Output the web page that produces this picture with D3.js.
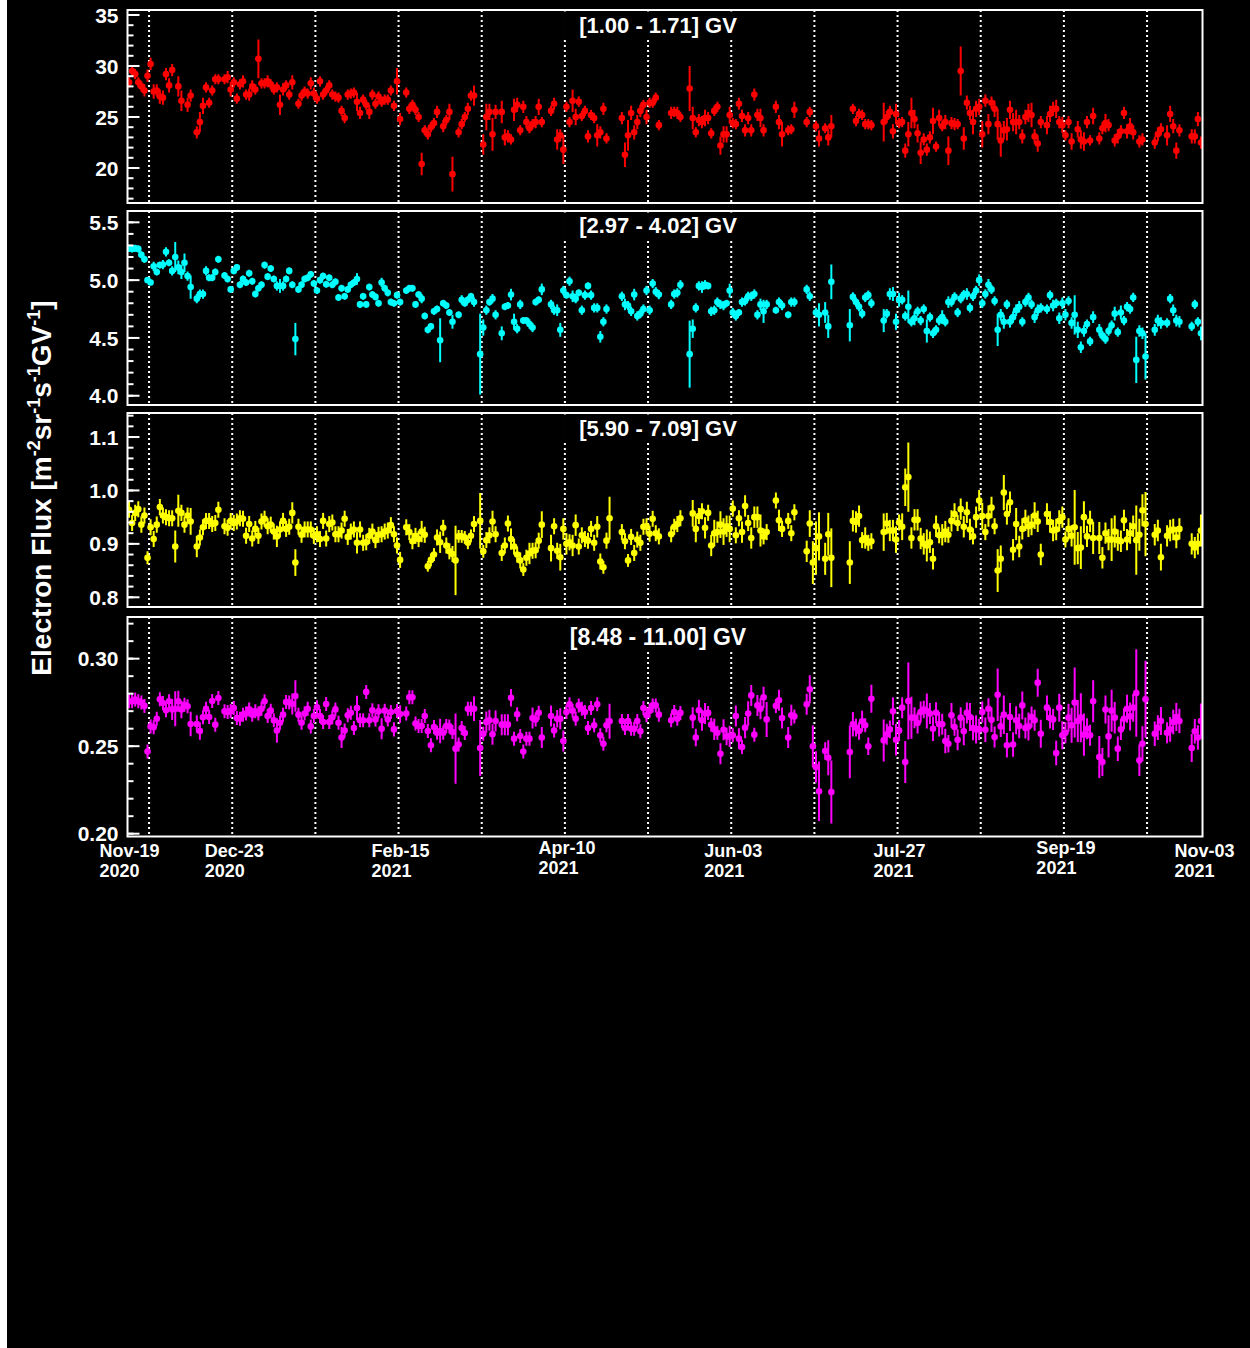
<!DOCTYPE html>
<html><head><meta charset="utf-8">
<script src="https://cdn.jsdelivr.net/npm/d3@7"></script>
<style>
body{margin:0;background:#fff}
svg{display:block}
text{font-family:"Liberation Sans",Arial,Helvetica,sans-serif;font-weight:bold;fill:#fff}
</style>
</head><body><svg id="c" width="1250" height="1348"></svg>
<script>
// ---- data: [day index from 2020-11-19, flux, error] ----
const p1 = [[0,28.4,.5],[1,29.5,.5],[2,29.2,.5],[3,28.4,.5],[4,28.0,.5],[5,27.6,.6],[6,29.05,.6],[7,30.2,.6],[8,27.5,.7],[9,27.6,.6],[10,27.0,.7],[11,26.9,.7],[12,29.2,.6],[13,28.1,.7],[14,29.6,.6],[16,28.0,1.0],[17,26.6,1.0],[19,26.2,.7],[20,27.1,.6],[22,23.5,.6],[23,24.5,1.0],[24,26.1,.8],[25,27.9,.5],[26,26.4,.5],[27,27.6,.5],[28,28.7,.5],[29,28.7,.5],[31,28.7,.5],[32,28.9,.6],[33,27.7,.7],[34,28.4,.5],[35,26.8,.5],[36,28.2,.5],[37,28.5,.6],[38,27.2,.5],[39,27.2,.6],[40,28.0,.6],[41,27.7,.5],[42,30.7,1.9],[43,28.3,.5],[44,28.3,.5],[45,28.5,.6],[46,28.2,.5],[47,27.7,.5],[48,27.9,.5],[49,26.2,1.0],[50,27.7,.6],[51,28.1,.5],[52,27.2,.5],[53,28.4,.7],[55,26.3,.5],[56,27.1,.5],[57,27.5,.5],[58,27.3,.5],[59,28.3,.6],[60,27.3,.6],[61,26.8,.5],[62,28.5,.5],[63,27.2,.5],[64,27.6,.5],[65,28.1,.5],[66,27.2,.5],[67,27.0,.5],[68,26.9,.5],[69,25.6,.5],[70,24.9,.5],[71,27.2,.5],[72,27.3,.5],[73,27.4,.5],[74,26.5,.9],[75,25.4,.6],[76,26.7,.5],[77,26.2,.5],[78,25.5,.7],[79,27.2,.5],[80,26.3,.5],[81,27.0,.5],[82,26.5,.5],[83,26.7,.5],[84,26.7,.5],[85,27.6,.5],[86,26.1,.5],[87,28.5,1.3],[88,24.8,.6],[90,27.4,.5],[91,25.8,.5],[92,26.2,.5],[93,25.7,.5],[94,25.0,.5],[95,20.4,1.1],[96,23.7,.5],[97,23.3,.5],[98,24.0,.5],[99,24.4,.5],[100,25.5,.6],[102,24.1,.6],[103,24.7,.5],[104,25.5,.8],[105,19.4,1.7],[107,23.5,.5],[108,24.3,.5],[109,25.0,.5],[110,25.8,.6],[111,27.1,.5],[112,27.1,1.0],[115,22.3,1.0],[116,25.0,1.3],[117,25.5,.8],[118,23.3,1.6],[119,25.5,.7],[121,25.5,1.1],[122,23.0,.8],[123,23.1,.6],[124,22.8,.5],[125,25.7,1.1],[126,26.2,.7],[127,23.7,.5],[128,26.0,.6],[129,24.5,.6],[130,23.9,.5],[131,24.3,.5],[132,24.5,.6],[133,26.0,.8],[134,24.5,.5],[137,25.6,.5],[138,26.3,.6],[139,22.8,1.0],[140,23.2,.6],[141,21.8,1.4],[142,26.0,.5],[143,24.5,.5],[144,26.6,1.1],[145,25.0,.8],[146,26.5,.5],[147,25.1,.5],[148,25.6,.5],[149,23.1,.6],[150,25.2,.5],[151,24.9,.5],[152,23.2,1.1],[153,23.5,.6],[154,25.8,.6],[155,22.9,.5],[160,24.9,.6],[161,21.3,1.2],[162,23.2,1.5],[163,25.4,.7],[164,23.5,.7],[165,24.5,.7],[166,25.6,.6],[167,26.2,.5],[168,25.0,.7],[169,26.4,.5],[170,26.4,.5],[171,26.9,.5],[172,24.2,.5],[176,25.4,.6],[177,25.5,.5],[178,25.4,.6],[179,25.0,.5],[182,27.8,2.2],[183,24.9,1.1],[184,23.5,.5],[185,24.7,.6],[186,24.5,.6],[187,24.9,.8],[188,24.9,.6],[189,23.4,.5],[190,25.6,.5],[191,26.0,.5],[192,22.2,.9],[193,23.3,.8],[194,23.3,.8],[195,25.2,.8],[196,24.4,.5],[197,24.3,.5],[198,26.3,.6],[199,25.1,.6],[200,23.7,.6],[201,24.9,.6],[202,23.7,.6],[203,27.2,.6],[204,25.2,.6],[205,24.9,.9],[206,23.7,.6],[210,26.0,.6],[211,24.5,.7],[212,23.3,1.2],[214,23.7,.5],[215,23.8,.5],[216,25.7,.8],[220,24.5,.5],[221,25.5,.5],[223,24.1,.5],[224,22.9,.8],[226,23.9,.5],[227,23.0,.8],[228,24.1,1.1],[235,25.8,.5],[236,24.6,.5],[237,25.3,.5],[238,25.2,.5],[239,24.3,.5],[240,24.3,.5],[241,24.2,.5],[245,24.5,1.9],[246,25.0,.6],[247,25.5,.6],[248,23.6,.7],[249,25.3,1.0],[250,24.4,.5],[251,24.5,.5],[252,21.7,.7],[253,23.3,1.2],[254,25.4,1.5],[255,24.8,.9],[256,23.4,.9],[257,21.5,1.1],[258,22.8,.6],[259,21.8,.6],[260,23.0,.6],[261,24.6,1.3],[262,22.1,.5],[263,24.9,.8],[264,24.1,.5],[265,24.5,.7],[266,21.7,1.4],[267,24.4,.6],[268,24.3,.6],[269,24.3,.5],[270,29.5,2.4],[271,22.9,1.1],[272,26.4,.7],[273,25.4,.7],[274,24.5,1.2],[275,25.8,.8],[276,26.0,.8],[277,23.3,1.3],[278,26.6,.6],[279,24.3,1.0],[280,26.4,.6],[281,25.8,.8],[282,24.3,1.5],[283,22.7,1.6],[284,23.7,.9],[285,23.8,1.1],[286,25.7,.9],[287,24.5,.9],[288,24.5,1.2],[289,24.5,.7],[290,23.1,.7],[291,25.0,.7],[292,25.4,.9],[293,25.2,1.2],[294,23.1,.7],[295,22.4,.8],[296,24.5,.6],[298,24.2,.9],[299,25.3,.8],[300,25.8,.7],[301,25.8,.9],[302,24.5,.6],[303,24.2,.8],[304,23.2,.5],[305,24.5,.6],[306,22.6,.8],[308,23.8,.8],[309,22.8,.9],[310,22.6,.9],[311,24.5,.6],[312,22.7,.5],[313,25.1,.8],[315,22.9,.6],[316,23.9,.6],[317,24.4,.9],[318,24.2,.6],[320,22.7,.6],[321,23.1,.7],[322,23.6,.6],[323,25.4,.6],[324,23.6,.7],[325,24.1,.8],[326,23.5,.7],[328,22.6,.6],[329,22.8,.6],[333,22.5,.6],[334,23.3,.7],[335,23.8,.6],[337,23.2,1.0],[338,25.3,.8],[339,24.1,.7],[340,21.7,.8],[341,23.7,.6],[345,23.1,.7],[346,23.1,.7],[347,24.8,.7],[348,22.5,.6]];

const p2 = [[0,5.275,.03],[1,5.27,.03],[2,5.275,.03],[3,5.27,.03],[4,5.22,.03],[5,5.18,.03],[6,5.0,.025],[7,4.98,.025],[8,5.12,.04],[9,5.07,.03],[10,5.13,.03],[11,5.135,.04],[12,5.245,.04],[13,5.15,.03],[14,5.08,.04],[15,5.2,.13],[16,5.11,.06],[17,5.07,.06],[18,5.15,.08],[19,5.035,.04],[20,4.94,.1],[22,4.84,.04],[23,4.88,.04],[24,4.88,.04],[25,5.08,.04],[26,5.02,.03],[27,5.02,.03],[28,5.07,.03],[29,5.18,.03],[31,5.04,.03],[32,5.01,.03],[33,4.92,.03],[34,5.08,.03],[35,5.11,.03],[36,4.96,.03],[37,5.01,.03],[38,4.98,.03],[39,5.06,.03],[40,4.99,.03],[41,4.88,.03],[42,4.93,.03],[43,4.96,.03],[44,5.13,.03],[45,5.03,.03],[46,5.10,.03],[47,5.01,.03],[48,4.95,.04],[49,4.95,.06],[50,4.95,.04],[51,5.01,.03],[52,5.08,.03],[53,4.96,.03],[54,4.49,.14],[55,4.92,.03],[56,4.96,.03],[57,5.01,.03],[58,5.02,.03],[59,5.05,.03],[60,4.97,.03],[61,4.91,.03],[62,5.0,.03],[63,5.035,.03],[64,4.965,.03],[65,5.02,.03],[66,4.96,.03],[67,4.985,.03],[68,4.85,.03],[69,4.93,.03],[70,4.86,.03],[71,4.92,.03],[72,4.96,.03],[73,4.98,.03],[74,5.01,.05],[75,4.79,.03],[76,4.86,.03],[77,4.79,.03],[78,4.94,.03],[79,4.875,.03],[80,4.855,.03],[81,4.80,.03],[82,4.98,.04],[83,4.93,.03],[84,4.89,.03],[85,4.81,.03],[86,4.80,.03],[87,4.87,.03],[88,4.81,.03],[90,4.91,.03],[91,4.93,.03],[92,4.93,.03],[93,4.79,.03],[94,4.875,.03],[95,4.84,.04],[96,4.69,.03],[97,4.57,.03],[98,4.60,.03],[99,4.73,.03],[100,4.75,.03],[101,4.48,.19],[102,4.80,.03],[103,4.78,.03],[104,4.72,.03],[105,4.64,.06],[107,4.70,.03],[108,4.83,.04],[109,4.80,.03],[110,4.83,.03],[111,4.86,.03],[112,4.81,.04],[114,4.36,.35],[115,4.59,.07],[116,4.74,.04],[117,4.81,.03],[118,4.84,.04],[119,4.70,.04],[121,4.54,.06],[122,4.77,.03],[123,4.78,.03],[124,4.875,.05],[125,4.64,.07],[126,4.58,.04],[127,4.79,.04],[128,4.65,.03],[129,4.65,.03],[130,4.62,.04],[131,4.59,.04],[132,4.81,.03],[133,4.83,.03],[134,4.92,.05],[137,4.79,.04],[138,4.74,.04],[139,4.74,.05],[140,4.57,.06],[141,4.91,.04],[142,4.87,.03],[143,4.99,.04],[144,4.86,.05],[145,4.84,.04],[146,4.89,.03],[147,4.74,.04],[148,4.87,.04],[149,4.95,.03],[150,4.87,.04],[151,4.76,.04],[152,4.76,.04],[153,4.51,.05],[154,4.64,.04],[155,4.75,.04],[160,4.86,.04],[161,4.79,.05],[162,4.78,.04],[163,4.73,.04],[164,4.875,.05],[165,4.69,.04],[166,4.71,.04],[167,4.75,.04],[168,4.91,.04],[169,4.74,.04],[170,4.97,.04],[171,4.90,.04],[172,4.875,.04],[176,4.79,.04],[177,4.88,.04],[178,4.89,.04],[179,4.96,.04],[182,4.36,.29],[183,4.58,.08],[184,4.76,.04],[185,4.95,.04],[186,4.94,.05],[187,4.96,.04],[188,4.95,.03],[189,4.73,.04],[190,4.74,.04],[191,4.81,.04],[192,4.79,.04],[193,4.78,.04],[194,4.80,.03],[195,4.91,.06],[196,4.72,.04],[197,4.69,.04],[198,4.72,.03],[199,4.81,.04],[200,4.82,.04],[201,4.86,.04],[202,4.86,.04],[203,4.88,.04],[204,4.70,.04],[205,4.79,.05],[206,4.73,.1],[207,4.79,.04],[210,4.74,.03],[211,4.81,.04],[212,4.78,.04],[214,4.70,.03],[215,4.81,.04],[216,4.81,.04],[220,4.92,.04],[221,4.86,.04],[223,4.72,.04],[224,4.70,.1],[226,4.72,.09],[227,4.60,.1],[228,4.985,.15],[234,4.61,.14],[235,4.855,.04],[236,4.81,.04],[237,4.77,.04],[238,4.71,.04],[239,4.85,.04],[240,4.87,.04],[241,4.80,.04],[245,4.65,.1],[246,4.71,.04],[247,4.88,.05],[248,4.88,.06],[249,4.64,.07],[250,4.83,.06],[251,4.83,.04],[252,4.69,.04],[253,4.77,.14],[254,4.64,.04],[255,4.67,.06],[256,4.73,.04],[257,4.65,.04],[258,4.75,.04],[259,4.56,.1],[260,4.68,.04],[261,4.54,.04],[262,4.57,.04],[263,4.65,.04],[264,4.68,.06],[265,4.64,.04],[266,4.81,.05],[267,4.81,.04],[268,4.855,.04],[269,4.72,.04],[270,4.84,.04],[271,4.875,.04],[272,4.88,.05],[273,4.76,.04],[274,4.86,.04],[275,4.91,.04],[276,5.00,.05],[277,4.80,.04],[278,4.88,.04],[279,4.96,.05],[280,4.92,.04],[281,4.82,.04],[282,4.57,.14],[283,4.70,.05],[284,4.64,.06],[285,4.79,.04],[286,4.64,.05],[287,4.68,.05],[288,4.74,.05],[289,4.77,.05],[290,4.64,.04],[291,4.81,.04],[292,4.85,.04],[293,4.79,.04],[294,4.68,.05],[295,4.74,.05],[296,4.76,.04],[298,4.75,.04],[299,4.87,.04],[300,4.78,.05],[301,4.80,.04],[302,4.67,.05],[303,4.80,.05],[304,4.70,.05],[305,4.82,.04],[306,4.63,.05],[307,4.70,.17],[308,4.57,.07],[309,4.42,.05],[310,4.56,.05],[311,4.62,.04],[312,4.47,.04],[313,4.68,.05],[315,4.57,.05],[316,4.52,.04],[317,4.49,.04],[318,4.56,.04],[319,4.61,.04],[320,4.71,.06],[321,4.55,.04],[322,4.72,.06],[323,4.65,.04],[324,4.77,.04],[325,4.75,.04],[326,4.85,.04],[327,4.31,.2],[328,4.56,.05],[329,4.54,.05],[330,4.34,.2],[333,4.57,.05],[334,4.65,.05],[335,4.63,.05],[337,4.63,.04],[338,4.84,.04],[339,4.74,.05],[340,4.65,.05],[341,4.64,.05],[345,4.60,.04],[346,4.79,.04],[347,4.64,.04],[348,4.54,.06]];

const p3 = [[0,0.964,.015],[1,0.939,.015],[2,0.958,.015],[3,0.965,.015],[4,0.936,.015],[5,0.953,.015],[6,0.874,.012],[7,0.931,.015],[8,0.909,.015],[9,0.936,.015],[10,0.969,.015],[11,0.953,.015],[12,0.95,.015],[13,0.948,.015],[14,0.948,.015],[15,0.895,.03],[16,0.962,.03],[17,0.958,.015],[18,0.936,.015],[19,0.953,.015],[20,0.942,.025],[22,0.895,.02],[23,0.912,.015],[24,0.931,.015],[25,0.943,.015],[26,0.943,.015],[27,0.937,.015],[28,0.939,.015],[29,0.964,.015],[31,0.933,.015],[32,0.93,.015],[33,0.943,.015],[34,0.939,.015],[35,0.942,.015],[36,0.948,.015],[37,0.947,.015],[38,0.915,.015],[39,0.937,.015],[40,0.91,.015],[41,0.928,.015],[42,0.915,.015],[43,0.942,.015],[44,0.947,.015],[45,0.933,.015],[46,0.936,.015],[47,0.923,.015],[48,0.914,.02],[49,0.927,.015],[50,0.943,.015],[51,0.928,.015],[52,0.932,.015],[53,0.958,.02],[54,0.865,.025],[55,0.932,.015],[56,0.917,.015],[57,0.927,.015],[58,0.927,.015],[59,0.927,.015],[60,0.915,.015],[61,0.918,.015],[62,0.909,.015],[63,0.943,.015],[64,0.91,.015],[65,0.937,.015],[66,0.94,.015],[67,0.918,.015],[68,0.918,.015],[69,0.925,.015],[70,0.947,.015],[71,0.913,.015],[72,0.923,.015],[73,0.927,.015],[74,0.902,.02],[75,0.927,.015],[76,0.902,.015],[77,0.903,.015],[78,0.915,.015],[79,0.923,.015],[80,0.907,.015],[81,0.917,.015],[82,0.918,.015],[83,0.923,.015],[84,0.925,.015],[85,0.935,.015],[86,0.918,.015],[87,0.897,.015],[88,0.87,.015],[90,0.931,.015],[91,0.922,.015],[92,0.905,.015],[93,0.915,.015],[94,0.909,.015],[95,0.923,.02],[96,0.917,.015],[97,0.858,.01],[98,0.87,.012],[99,0.88,.012],[100,0.912,.015],[101,0.903,.02],[102,0.93,.015],[103,0.897,.015],[104,0.886,.015],[105,0.881,.015],[106,0.869,.065],[107,0.914,.012],[108,0.914,.012],[109,0.912,.012],[110,0.902,.012],[111,0.915,.012],[112,0.937,.015],[114,0.943,.052],[115,0.886,.012],[116,0.907,.015],[117,0.916,.015],[118,0.942,.02],[119,0.918,.015],[121,0.883,.015],[122,0.897,.015],[123,0.938,.015],[124,0.909,.02],[125,0.895,.015],[126,0.88,.015],[127,0.869,.015],[128,0.852,.012],[129,0.874,.015],[130,0.882,.02],[131,0.887,.015],[132,0.888,.015],[133,0.906,.015],[134,0.936,.025],[137,0.892,.025],[138,0.933,.015],[139,0.887,.015],[140,0.875,.025],[141,0.928,.02],[142,0.9,.02],[143,0.903,.015],[144,0.897,.02],[145,0.935,.02],[146,0.895,.015],[147,0.916,.015],[148,0.909,.015],[149,0.906,.015],[150,0.928,.015],[151,0.902,.015],[152,0.932,.02],[153,0.867,.015],[154,0.856,.012],[155,0.906,.015],[156,0.948,.04],[160,0.922,.015],[161,0.905,.015],[162,0.869,.012],[163,0.913,.015],[164,0.883,.015],[165,0.908,.015],[166,0.902,.015],[167,0.932,.015],[168,0.933,.015],[169,0.919,.015],[170,0.947,.015],[171,0.92,.015],[172,0.914,.015],[176,0.918,.015],[177,0.932,.015],[178,0.937,.015],[179,0.948,.015],[183,0.957,.025],[184,0.928,.025],[185,0.952,.015],[186,0.961,.015],[187,0.93,.02],[188,0.958,.015],[189,0.897,.02],[190,0.92,.025],[191,0.922,.02],[192,0.936,.025],[193,0.923,.025],[194,0.933,.02],[195,0.928,.025],[196,0.966,.015],[197,0.916,.015],[198,0.948,.015],[199,0.922,.02],[200,0.971,.02],[201,0.939,.015],[202,0.911,.02],[203,0.95,.02],[204,0.95,.02],[205,0.925,.03],[206,0.914,.015],[207,0.922,.015],[210,0.981,.015],[211,0.944,.02],[212,0.928,.015],[214,0.943,.015],[215,0.92,.015],[216,0.959,.015],[220,0.886,.02],[221,0.938,.025],[222,0.865,.04],[223,0.892,.05],[224,0.914,.045],[226,0.872,.03],[227,0.918,.04],[228,0.874,.055],[234,0.865,.04],[235,0.943,.02],[236,0.941,.02],[237,0.952,.02],[238,0.907,.015],[239,0.911,.02],[240,0.902,.015],[241,0.905,.015],[245,0.922,.035],[246,0.938,.02],[247,0.925,.02],[248,0.925,.02],[249,0.908,.025],[250,0.94,.015],[251,0.932,.025],[252,1.006,.035],[253,1.025,.065],[254,0.911,.02],[255,0.945,.02],[256,0.945,.02],[257,0.91,.02],[258,0.9,.02],[259,0.897,.03],[260,0.903,.02],[261,0.872,.02],[262,0.933,.02],[263,0.916,.015],[264,0.917,.02],[265,0.923,.02],[266,0.917,.015],[267,0.943,.02],[268,0.956,.02],[269,0.939,.015],[270,0.965,.02],[271,0.932,.02],[272,0.959,.02],[273,0.927,.02],[274,0.914,.015],[275,0.95,.02],[276,0.981,.02],[277,0.952,.025],[278,0.922,.015],[279,0.952,.02],[280,0.968,.02],[281,0.933,.015],[282,0.85,.04],[283,0.872,.025],[284,0.996,.033],[285,0.956,.02],[286,0.978,.02],[287,0.889,.02],[288,0.937,.03],[289,0.895,.02],[290,0.928,.02],[291,0.944,.02],[292,0.933,.02],[293,0.936,.02],[294,0.953,.025],[295,0.942,.02],[296,0.88,.02],[298,0.956,.02],[299,0.941,.02],[300,0.925,.02],[301,0.927,.02],[302,0.943,.02],[303,0.95,.02],[304,0.908,.015],[305,0.928,.02],[306,0.915,.02],[307,0.931,.07],[308,0.892,.03],[309,0.893,.04],[310,0.95,.03],[311,0.914,.02],[312,0.942,.02],[313,0.911,.03],[315,0.911,.03],[316,0.874,.02],[317,0.92,.02],[318,0.908,.02],[319,0.908,.04],[320,0.923,.03],[321,0.907,.02],[322,0.905,.02],[323,0.944,.02],[324,0.908,.02],[325,0.92,.02],[326,0.933,.02],[327,0.907,.065],[328,0.917,.03],[329,0.963,.03],[330,0.937,.06],[333,0.917,.02],[334,0.925,.02],[335,0.875,.025],[337,0.915,.02],[338,0.925,.02],[339,0.927,.02],[340,0.912,.02],[341,0.928,.02],[345,0.90,.02],[346,0.893,.02],[347,0.90,.02],[348,0.925,.03]];

const p4 = [[0,0.2756,.004],[1,0.2756,.004],[2,0.2766,.004],[3,0.2756,.004],[4,0.2749,.004],[5,0.273,.004],[6,0.247,.004],[7,0.2613,.004],[8,0.2608,.004],[9,0.2657,.004],[10,0.2768,.004],[11,0.2747,.004],[12,0.2705,.004],[13,0.2756,.004],[14,0.271,.006],[15,0.2714,.01],[16,0.2756,.006],[17,0.271,.005],[18,0.2737,.004],[19,0.2728,.004],[20,0.2627,.007],[22,0.2627,.005],[23,0.2587,.005],[24,0.2665,.004],[25,0.2714,.004],[26,0.2667,.004],[27,0.2758,.004],[28,0.2623,.004],[29,0.2775,.004],[31,0.2699,.004],[32,0.2695,.004],[33,0.2701,.004],[34,0.2718,.004],[35,0.2661,.004],[36,0.2657,.004],[37,0.268,.004],[38,0.2686,.004],[39,0.271,.004],[40,0.268,.004],[41,0.2699,.004],[42,0.2686,.004],[43,0.2714,.004],[44,0.2756,.004],[45,0.2672,.004],[46,0.2703,.004],[47,0.2648,.004],[48,0.259,.007],[49,0.2634,.004],[50,0.268,.004],[51,0.2752,.004],[52,0.2749,.004],[53,0.2741,.006],[54,0.2787,.009],[55,0.268,.004],[56,0.2634,.004],[57,0.2686,.004],[58,0.2714,.004],[59,0.2613,.004],[60,0.2672,.004],[61,0.2722,.004],[62,0.2672,.004],[63,0.2638,.004],[64,0.2741,.004],[65,0.2638,.004],[66,0.2665,.004],[67,0.271,.004],[68,0.2634,.004],[69,0.2549,.006],[70,0.259,.004],[71,0.2676,.004],[72,0.2691,.004],[73,0.2604,.004],[74,0.2718,.007],[75,0.2648,.004],[76,0.2648,.004],[77,0.281,.004],[78,0.2648,.004],[79,0.2705,.004],[80,0.2653,.004],[81,0.2699,.004],[82,0.26,.006],[83,0.2703,.004],[84,0.2653,.004],[85,0.2695,.004],[86,0.2596,.004],[87,0.2701,.004],[88,0.2684,.005],[90,0.2686,.004],[91,0.2779,.004],[92,0.2779,.004],[93,0.2629,.004],[94,0.2615,.004],[95,0.2615,.004],[96,0.2672,.004],[97,0.2587,.004],[98,0.2505,.004],[99,0.261,.004],[100,0.2577,.004],[101,0.2587,.007],[102,0.2577,.004],[103,0.2615,.004],[104,0.2613,.004],[105,0.2581,.004],[106,0.2486,.02],[107,0.2509,.004],[108,0.2604,.004],[109,0.2575,.004],[110,0.2714,.004],[111,0.2714,.004],[112,0.2714,.007],[114,0.249,.016],[115,0.2571,.004],[116,0.2638,.006],[117,0.2648,.006],[118,0.2568,.006],[119,0.2644,.006],[121,0.2623,.006],[122,0.2623,.006],[123,0.2623,.006],[124,0.2777,.005],[125,0.2543,.004],[126,0.2682,.004],[127,0.2558,.004],[128,0.247,.004],[129,0.2543,.004],[130,0.2543,.004],[131,0.2661,.006],[132,0.2653,.004],[133,0.2691,.004],[134,0.2549,.006],[137,0.2672,.006],[138,0.259,.004],[139,0.2657,.005],[140,0.2657,.006],[141,0.253,.006],[142,0.2695,.004],[143,0.2739,.004],[144,0.2703,.004],[145,0.2657,.004],[146,0.2733,.004],[147,0.2714,.004],[148,0.2695,.004],[149,0.2604,.004],[150,0.2718,.004],[151,0.2619,.004],[152,0.2739,.004],[153,0.2562,.004],[154,0.2514,.004],[155,0.2619,.004],[156,0.2642,.01],[160,0.2644,.004],[161,0.2604,.004],[162,0.2644,.004],[163,0.26,.004],[164,0.26,.004],[165,0.2644,.004],[166,0.2585,.004],[167,0.2718,.004],[168,0.2676,.004],[169,0.2703,.004],[170,0.2733,.004],[171,0.2733,.004],[172,0.268,.004],[176,0.2648,.004],[177,0.2695,.004],[178,0.2657,.004],[179,0.269,.004],[183,0.2663,.006],[184,0.2549,.005],[185,0.2705,.006],[186,0.2648,.006],[187,0.2686,.006],[188,0.269,.004],[189,0.2623,.004],[190,0.2596,.006],[191,0.2577,.004],[192,0.2457,.006],[193,0.2594,.006],[194,0.2556,.005],[195,0.2556,.006],[196,0.2562,.004],[197,0.2672,.006],[198,0.2543,.006],[199,0.2495,.004],[200,0.2606,.006],[201,0.2686,.007],[202,0.279,.006],[203,0.2566,.004],[204,0.2733,.006],[205,0.2714,.006],[206,0.2779,.006],[207,0.2653,.01],[210,0.273,.004],[211,0.2762,.006],[212,0.2661,.006],[214,0.2549,.006],[215,0.2676,.006],[216,0.267,.004],[220,0.2739,.006],[221,0.2825,.008],[222,0.2499,.012],[223,0.2381,.009],[224,0.2242,.017],[226,0.2472,.005],[227,0.2434,.01],[228,0.2238,.018],[234,0.2467,.015],[235,0.2625,.007],[236,0.2606,.005],[237,0.2587,.005],[238,0.2642,.006],[239,0.2619,.004],[240,0.2499,.005],[241,0.2771,.008],[245,0.2533,.012],[246,0.2568,.006],[247,0.2596,.005],[248,0.2699,.008],[249,0.2537,.009],[250,0.259,.006],[251,0.272,.006],[252,0.241,.012],[253,0.2758,.022],[254,0.2663,.012],[255,0.2663,.006],[256,0.2632,.006],[257,0.2695,.006],[258,0.2709,.005],[259,0.2701,.01],[260,0.2686,.006],[261,0.26,.007],[262,0.2691,.006],[263,0.2625,.007],[264,0.2625,.006],[265,0.253,.007],[266,0.2514,.005],[267,0.2676,.007],[268,0.261,.005],[269,0.2537,.006],[270,0.2663,.006],[271,0.2585,.008],[272,0.269,.006],[273,0.2667,.008],[274,0.2604,.007],[275,0.2596,.008],[276,0.2596,.006],[277,0.2695,.006],[278,0.2594,.007],[279,0.2714,.006],[280,0.2651,.007],[281,0.2552,.006],[282,0.2794,.015],[283,0.2613,.006],[284,0.268,.011],[285,0.2505,.007],[286,0.2667,.008],[287,0.251,.007],[288,0.2648,.008],[289,0.2615,.007],[290,0.2733,.008],[291,0.2604,.006],[292,0.2613,.008],[293,0.2667,.006],[294,0.2648,.006],[295,0.2863,.008],[296,0.2571,.008],[298,0.272,.007],[299,0.2661,.006],[300,0.2653,.006],[301,0.2461,.007],[302,0.272,.008],[303,0.2562,.008],[304,0.2577,.006],[305,0.2663,.008],[306,0.2619,.01],[307,0.2749,.02],[308,0.2644,.012],[309,0.2663,.014],[310,0.2566,.012],[311,0.26,.006],[312,0.2562,.006],[313,0.2756,.012],[315,0.2438,.012],[316,0.241,.008],[317,0.2709,.008],[318,0.2556,.012],[319,0.2703,.012],[320,0.2663,.009],[321,0.2486,.007],[322,0.2596,.006],[323,0.2657,.006],[324,0.2714,.008],[325,0.267,.008],[326,0.272,.008],[327,0.2804,.025],[328,0.2419,.009],[329,0.2514,.01],[330,0.2768,.022],[333,0.2571,.007],[334,0.2606,.007],[335,0.2644,.008],[337,0.2577,.006],[338,0.2596,.007],[339,0.2638,.007],[340,0.2667,.008],[341,0.2644,.007],[345,0.249,.008],[346,0.2585,.007],[347,0.2549,.007],[348,0.2644,.01]];

const panelTitles = ["[1.00 - 1.71] GV", "[2.97 - 4.02] GV", "[5.90 - 7.09] GV", "[8.48 - 11.00] GV"];
const panelColors = ["#ff0000", "#00ffff", "#ffff00", "#ff00ff"];
const yMajorTicks = [[20, 25, 30, 35], [4.0, 4.5, 5.0, 5.5], [0.8, 0.9, 1.0, 1.1], [0.20, 0.25, 0.30]];
const yTickFormat = [".0f", ".1f", ".1f", ".2f"];
const yMinorStep = [1, 0.1, 0.02, 0.01];
const yDomains = [[16.57, 35.49], [3.92, 5.598], [0.7818, 1.145], [0.1984, 0.3238]];
const startDate = "2020-11-19", endDate = "2021-11-03";
const gridDates = ["2020-11-26","2020-12-23","2021-01-19","2021-02-15","2021-03-14","2021-04-10","2021-05-07","2021-06-03","2021-06-30","2021-07-27","2021-08-23","2021-09-19","2021-10-16"];
const labelDates = ["2020-11-19","2020-12-23","2021-02-15","2021-04-10","2021-06-03","2021-07-27","2021-09-19","2021-11-03"];
const yTitle = "Electron Flux";

// ---- layout ----
const W = 1250, H = 1348;
const X0 = 127.5, X1 = 1202.5;
const panelTop = [10, 211, 413, 617];
const panelBot = [203, 405, 607, 836.5];
const titleBase = [33, 233, 436, 645];
const titleSize = [22, 22, 22, 23];
const titleCX = 658;
const DAY = 86400000;

const svg = d3.select("#c");
svg.append("rect").attr("x", 0).attr("y", 0).attr("width", W).attr("height", H).attr("fill", "#fff");
svg.append("rect").attr("x", 7).attr("y", 0).attr("width", W - 7).attr("height", H).attr("fill", "#000");

const parse = d3.utcParse("%Y-%m-%d");
const x = d3.scaleUtc().domain([parse(startDate), parse(endDate)]).range([X0, X1]);
const dayDate = d => new Date(parse(startDate).getTime() + (d + 0.5) * DAY);

const datasets = [p1, p2, p3, p4];
datasets.forEach((data, k) => {
  const top = panelTop[k], bot = panelBot[k];
  const y = d3.scaleLinear().domain(yDomains[k]).range([bot, top]);
  const g = svg.append("g");
  const cid = "clip" + k;
  svg.append("clipPath").attr("id", cid).append("rect")
    .attr("x", X0).attr("y", top).attr("width", X1 - X0).attr("height", bot - top);

  // dotted Bartels gridlines
  g.append("g").selectAll("line").data(gridDates).join("line")
    .attr("x1", d => x(parse(d))).attr("x2", d => x(parse(d)))
    .attr("y1", top).attr("y2", bot)
    .attr("stroke", "#fff").attr("stroke-width", 2).attr("stroke-dasharray", "2,3");

  // title box + title
  const tw = panelTitles[k].length * titleSize[k] * 0.47;
  g.append("rect").attr("x", titleCX - tw / 2 - 12).attr("y", top + 1.5)
    .attr("width", tw + 24).attr("height", titleBase[k] - top + 5).attr("fill", "#000");
  g.append("text").attr("x", titleCX).attr("y", titleBase[k]).attr("text-anchor", "middle")
    .attr("font-size", titleSize[k]).text(panelTitles[k]);

  // data
  const dg = g.append("g").attr("clip-path", `url(#${cid})`);
  dg.selectAll("line.err").data(data).join("line").attr("class", "err")
    .attr("x1", d => x(dayDate(d[0]))).attr("x2", d => x(dayDate(d[0])))
    .attr("y1", d => y(d[1] - d[2])).attr("y2", d => y(d[1] + d[2]))
    .attr("stroke", panelColors[k]).attr("stroke-width", 2);
  dg.selectAll("circle").data(data).join("circle")
    .attr("cx", d => x(dayDate(d[0]))).attr("cy", d => y(d[1])).attr("r", 3.3)
    .attr("fill", panelColors[k]);

  // y ticks (inward, left side)
  const dmin = yDomains[k][0], dmax = yDomains[k][1], st = yMinorStep[k];
  const minor = d3.range(Math.ceil(dmin / st - 1e-6), Math.floor(dmax / st + 1e-6) + 1).map(i => i * st)
    .filter(v => y(v) > top + 1 && y(v) < bot - 1);
  g.append("g").selectAll("line").data(minor).join("line")
    .attr("x1", X0).attr("x2", X0 + 6).attr("y1", d => y(d)).attr("y2", d => y(d))
    .attr("stroke", "#fff").attr("stroke-width", 2);
  g.append("g").selectAll("line").data(yMajorTicks[k]).join("line")
    .attr("x1", X0).attr("x2", X0 + 12).attr("y1", d => y(d)).attr("y2", d => y(d))
    .attr("stroke", "#fff").attr("stroke-width", 2);
  const fmt = d3.format(yTickFormat[k]);
  g.append("g").selectAll("text").data(yMajorTicks[k]).join("text")
    .attr("x", X0 - 9).attr("y", d => y(d)).attr("dy", "0.36em").attr("text-anchor", "end")
    .attr("font-size", 21).text(d => fmt(d));

  // frame
  g.append("rect").attr("x", X0).attr("y", top).attr("width", X1 - X0).attr("height", bot - top)
    .attr("fill", "none").attr("stroke", "#fff").attr("stroke-width", 2);
});

// x-axis labels (two lines, left-aligned block centred on the date)
const fmtMD = d3.utcFormat("%b-%d"), fmtY = d3.utcFormat("%Y");
const lab = svg.append("g");
labelDates.forEach(s => {
  const dt = parse(s);
  const t1 = fmtMD(dt);
  const t = lab.append("text").attr("font-size", 18);
  const shift = /p/.test(t1) ? -3 : 0;
  t.append("tspan").attr("x", 0).attr("y", 857 + shift).text(t1);
  t.append("tspan").attr("x", 0).attr("y", 877 + shift).text(fmtY(dt));
  const w = t.node().getBBox().width;
  t.attr("transform", `translate(${x(dt) - w / 2 + 2},0)`);
});

// y-axis title
const yt = svg.append("text").attr("transform", "translate(51,488) rotate(-90)")
  .attr("text-anchor", "middle").attr("font-size", 28);
yt.append("tspan").text(yTitle + " [m");
const sup = s => yt.append("tspan").attr("dy", -11).attr("font-size", 18).text(s);
const base = s => yt.append("tspan").attr("dy", 11).text(s);
sup("-2"); base("sr"); sup("-1"); base("s"); sup("-1"); base("GV"); sup("-1"); base("]");
</script>
</body></html>
